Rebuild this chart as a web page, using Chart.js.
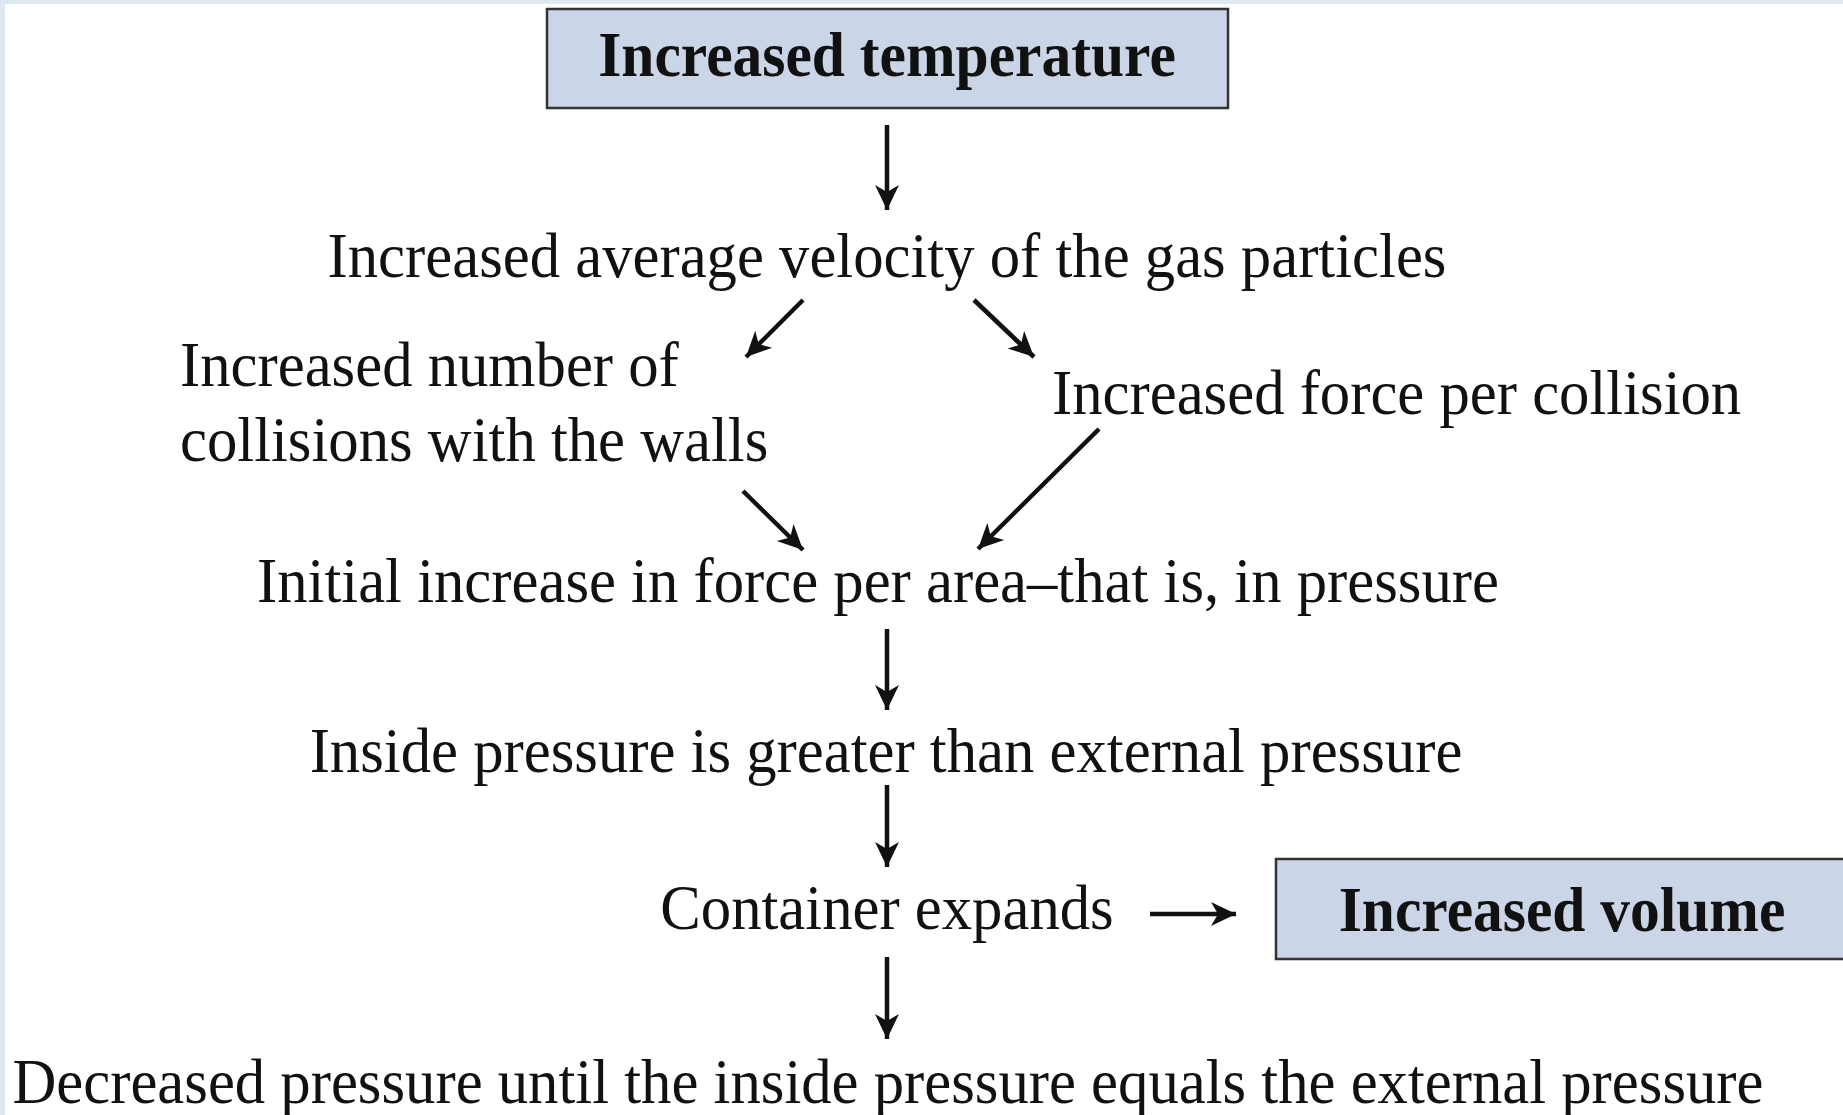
<!DOCTYPE html>
<html>
<head>
<meta charset="utf-8">
<script src="https://cdn.jsdelivr.net/npm/chart.js@4.4.1/dist/chart.umd.min.js"></script>
<style>
  html, body { margin: 0; padding: 0; background: #fff; overflow: hidden; }
  #wrap { width: 1843px; height: 1115px; }
</style>
</head>
<body>
<div id="wrap"><canvas id="flowChart" width="1843" height="1115"></canvas></div>
<script>
// steps of the flow diagram (x, y in chart units; y = text baseline)
const stepTexts = [
    'Increased temperature',
    'Increased average velocity of the gas particles',
    'Increased number of',
    'collisions with the walls',
    'Increased force per collision',
    'Initial increase in force per area\u2013that is, in pressure',
    'Inside pressure is greater than external pressure',
    'Container expands',
    'Increased volume',
    'Decreased pressure until the inside pressure equals the external pressure'
];
const stepX = [887, 887, 180, 180, 1052, 878, 886, 887, 1562, 888];
const stepY = [76, 277, 386, 461, 414, 602, 772, 929, 931, 1103];
const stepAlign = ['center', 'center', 'left', 'left', 'left', 'center', 'center', 'center', 'center', 'center'];
const boldSteps = [0, 8];

// boxed steps: [left, top, right, bottom]
const boxLeft = [547, 1276];
const boxTop = [9, 859];
const boxRight = [1228, 1850];
const boxBottom = [108, 959];

// arrows: start -> end
const arrowStartX = [887, 803, 974, 743, 1099, 887, 887, 1150, 887];
const arrowStartY = [125, 300, 300, 491, 429, 629, 785, 914, 957];
const arrowEndX = [887, 746, 1034, 803, 978, 887, 887, 1236, 887];
const arrowEndY = [210, 357, 357, 550, 549, 710, 867, 914, 1039];

const FONT_PX = 64;
const FONT_FAMILY = '"Liberation Serif", "DejaVu Serif", serif';

const datasets = [{
    label: 'steps',
    data: stepX.map((x, i) => ({ x: x, y: stepY[i] })),
    pointRadius: 0,
    showLine: false
}];
arrowStartX.forEach((x, i) => {
    datasets.push({
        label: 'arrow' + i,
        data: [{ x: x, y: arrowStartY[i] }, { x: arrowEndX[i], y: arrowEndY[i] }],
        showLine: true,
        borderColor: '#111',
        borderWidth: 4.5,
        borderCapStyle: 'butt',
        pointRadius: 0
    });
});

const flowPlugin = {
    id: 'flow',
    beforeDraw(chart) {
        const ctx = chart.ctx;
        ctx.save();
        ctx.fillStyle = '#ffffff';
        ctx.fillRect(0, 0, chart.width, chart.height);
        ctx.fillStyle = '#dfe7f1';
        ctx.fillRect(0, 0, chart.width, 4);
        ctx.fillRect(0, 0, 5, chart.height);
        ctx.restore();
    },
    beforeDatasetsDraw(chart) {
        const ctx = chart.ctx;
        const xs = chart.scales.x, ys = chart.scales.y;
        ctx.save();
        boxLeft.forEach((l, i) => {
            const x0 = xs.getPixelForValue(l), x1 = xs.getPixelForValue(boxRight[i]);
            const y0 = ys.getPixelForValue(boxTop[i]), y1 = ys.getPixelForValue(boxBottom[i]);
            ctx.fillStyle = '#cbd5e8';
            ctx.fillRect(x0, y0, x1 - x0, y1 - y0);
            ctx.strokeStyle = '#333';
            ctx.lineWidth = 2.5;
            ctx.strokeRect(x0, y0, x1 - x0, y1 - y0);
        });
        ctx.restore();
    },
    afterDatasetsDraw(chart) {
        const ctx = chart.ctx;
        ctx.save();
        // arrow heads
        for (let d = 1; d < chart.data.datasets.length; d++) {
            const pts = chart.getDatasetMeta(d).data;
            const a = pts[0], b = pts[1];
            const ang = Math.atan2(b.y - a.y, b.x - a.x);
            ctx.save();
            ctx.translate(b.x, b.y);
            ctx.rotate(ang);
            ctx.fillStyle = '#111';
            ctx.beginPath();
            ctx.moveTo(0, 0);
            ctx.lineTo(-25, -12);
            ctx.lineTo(-18, 0);
            ctx.lineTo(-25, 12);
            ctx.closePath();
            ctx.fill();
            ctx.restore();
        }
        // step texts
        const meta = chart.getDatasetMeta(0);
        ctx.font = FONT_PX + 'px ' + FONT_FAMILY;
        const squeeze = 1751 / ctx.measureText(stepTexts[9]).width;
        ctx.fillStyle = '#111';
        ctx.textBaseline = 'alphabetic';
        stepTexts.forEach((t, i) => {
            const p = meta.data[i];
            const bold = boldSteps.includes(i);
            ctx.font = (bold ? 'bold ' : '') + FONT_PX + 'px ' + FONT_FAMILY;
            ctx.textAlign = stepAlign[i];
            ctx.save();
            ctx.translate(p.x, p.y);
            ctx.scale(bold ? squeeze * 0.98 : squeeze, 1);
            ctx.fillText(t, 0, 0);
            ctx.restore();
        });
        ctx.restore();
    }
};

new Chart(document.getElementById('flowChart'), {
    type: 'scatter',
    data: { datasets: datasets },
    options: {
        responsive: false,
        animation: false,
        layout: { padding: 0 },
        scales: {
            x: { type: 'linear', min: 0, max: 1843, display: false },
            y: { type: 'linear', min: 0, max: 1115, reverse: true, display: false }
        },
        plugins: {
            legend: { display: false },
            tooltip: { enabled: false }
        }
    },
    plugins: [flowPlugin]
});
</script>
</body>
</html>
